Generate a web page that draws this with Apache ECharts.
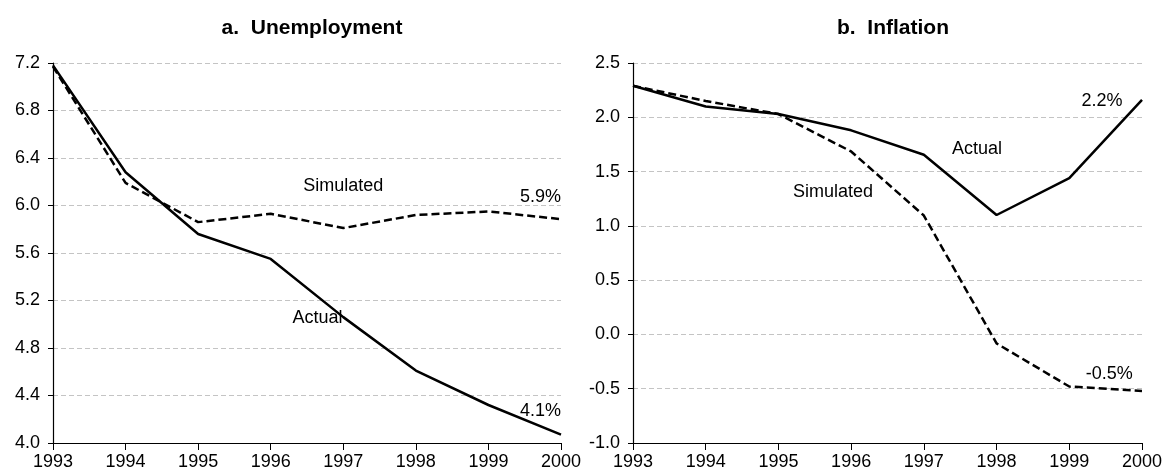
<!DOCTYPE html>
<html><head><meta charset="utf-8">
<script src="https://cdn.jsdelivr.net/npm/echarts@6/dist/echarts.min.js"></script>
<style>html,body{margin:0;padding:0;background:#fff}#c{width:1168px;height:475px}</style>
</head><body><div id="c"></div>
<script>
const years = [1993,1994,1995,1996,1997,1998,1999,2000];
const unempActual    = [7.18,6.28,5.76,5.55,5.06,4.61,4.32,4.07];
const unempSimulated = [7.17,6.19,5.86,5.93,5.81,5.92,5.95,5.885];
const inflActual     = [2.29,2.10,2.03,1.88,1.655,1.10,1.44,2.16];
const inflSimulated  = [2.29,2.15,2.03,1.685,1.095,-0.083,-0.48,-0.52];
const titles = ['a.  Unemployment','b.  Inflation'];
const unempTicks = [4.0,4.4,4.8,5.2,5.6,6.0,6.4,6.8,7.2];
const inflTicks = [-1.0,-0.5,0.0,0.5,1.0,1.5,2.0,2.5];
// annotation texts with data-space anchors
const unempNotes = [[1997.0,6.163,'Simulated'],[2000,6.07,'5.9%','right'],[1996.30,5.053,'Actual','left'],[2000,4.272,'4.1%','right']];
const inflNotes = [[1997.73,1.704,'Actual'],[1995.75,1.31,'Simulated'],[1999.45,2.147,'2.2%'],[1999.55,-0.365,'-0.5%']];

const FONT = 'Liberation Sans, Arial, sans-serif';
const pair = (xs, ys) => xs.map((x,i)=>[x, ys[i]]);

function xAxis(gi){
  return {type:'value', gridIndex:gi, min:1993, max:2000, interval:1,
    axisLine:{onZero:false,lineStyle:{color:'#000',width:1.2}},
    axisTick:{show:true,length:7,lineStyle:{color:'#000'}},
    axisLabel:{color:'#000',fontSize:18,fontFamily:FONT,margin:10,formatter:v=>String(v)},
    splitLine:{show:false}};
}
function yAxis(gi,min,max,interval){
  return {type:'value', gridIndex:gi, min:min, max:max, interval:interval,
    axisLine:{show:true,lineStyle:{color:'#000',width:1.2}},
    axisTick:{show:true,length:5,lineStyle:{color:'#000'}},
    axisLabel:{color:'#000',fontSize:18,fontFamily:FONT,margin:13,formatter:v=>v.toFixed(1)},
    splitLine:{show:true,lineStyle:{color:'#c4c4c4',type:[5,3],width:1}}};
}
function lineSeries(gi,data,dashed){
  return {type:'line', xAxisIndex:gi, yAxisIndex:gi, data:data, symbol:'none',
    lineStyle:{color:'#000',width:2.5,type:dashed?[8,4]:'solid'}, silent:true, animation:false, z:3};
}
function notes(gi,arr){
  return {type:'scatter', xAxisIndex:gi, yAxisIndex:gi, symbolSize:1,
    itemStyle:{color:'#fff', opacity:0}, silent:true, animation:false, z:4,
    data:arr.map(n=>({value:[n[0],n[1]], label:{show:true, position:'inside', align:n[3]||'center', verticalAlign:'middle',
      formatter:n[2], color:'#000', textBorderWidth:0, opacity:1, fontSize:18, fontFamily:FONT}}))};
}

const chart = echarts.init(document.getElementById('c'), null, {renderer:'canvas'});
chart.setOption({
  backgroundColor:'#fff',
  animation:false,
  title:[
    {text:titles[0], left:307, top:13, textAlign:'center', textStyle:{fontFamily:FONT,fontWeight:'bold',fontSize:21,color:'#000'}},
    {text:titles[1], left:888, top:13, textAlign:'center', textStyle:{fontFamily:FONT,fontWeight:'bold',fontSize:21,color:'#000'}}
  ],
  grid:[
    {left:53, right:607, top:63, bottom:32, containLabel:false},
    {left:633, right:26, top:63, bottom:32, containLabel:false}
  ],
  xAxis:[xAxis(0), xAxis(1)],
  yAxis:[yAxis(0,unempTicks[0],unempTicks[unempTicks.length-1],0.4), yAxis(1,inflTicks[0],inflTicks[inflTicks.length-1],0.5)],
  series:[
    lineSeries(0,pair(years,unempSimulated),true),
    lineSeries(0,pair(years,unempActual),false),
    lineSeries(1,pair(years,inflSimulated),true),
    lineSeries(1,pair(years,inflActual),false),
    notes(0,unempNotes),
    notes(1,inflNotes)
  ]
});
</script></body></html>
